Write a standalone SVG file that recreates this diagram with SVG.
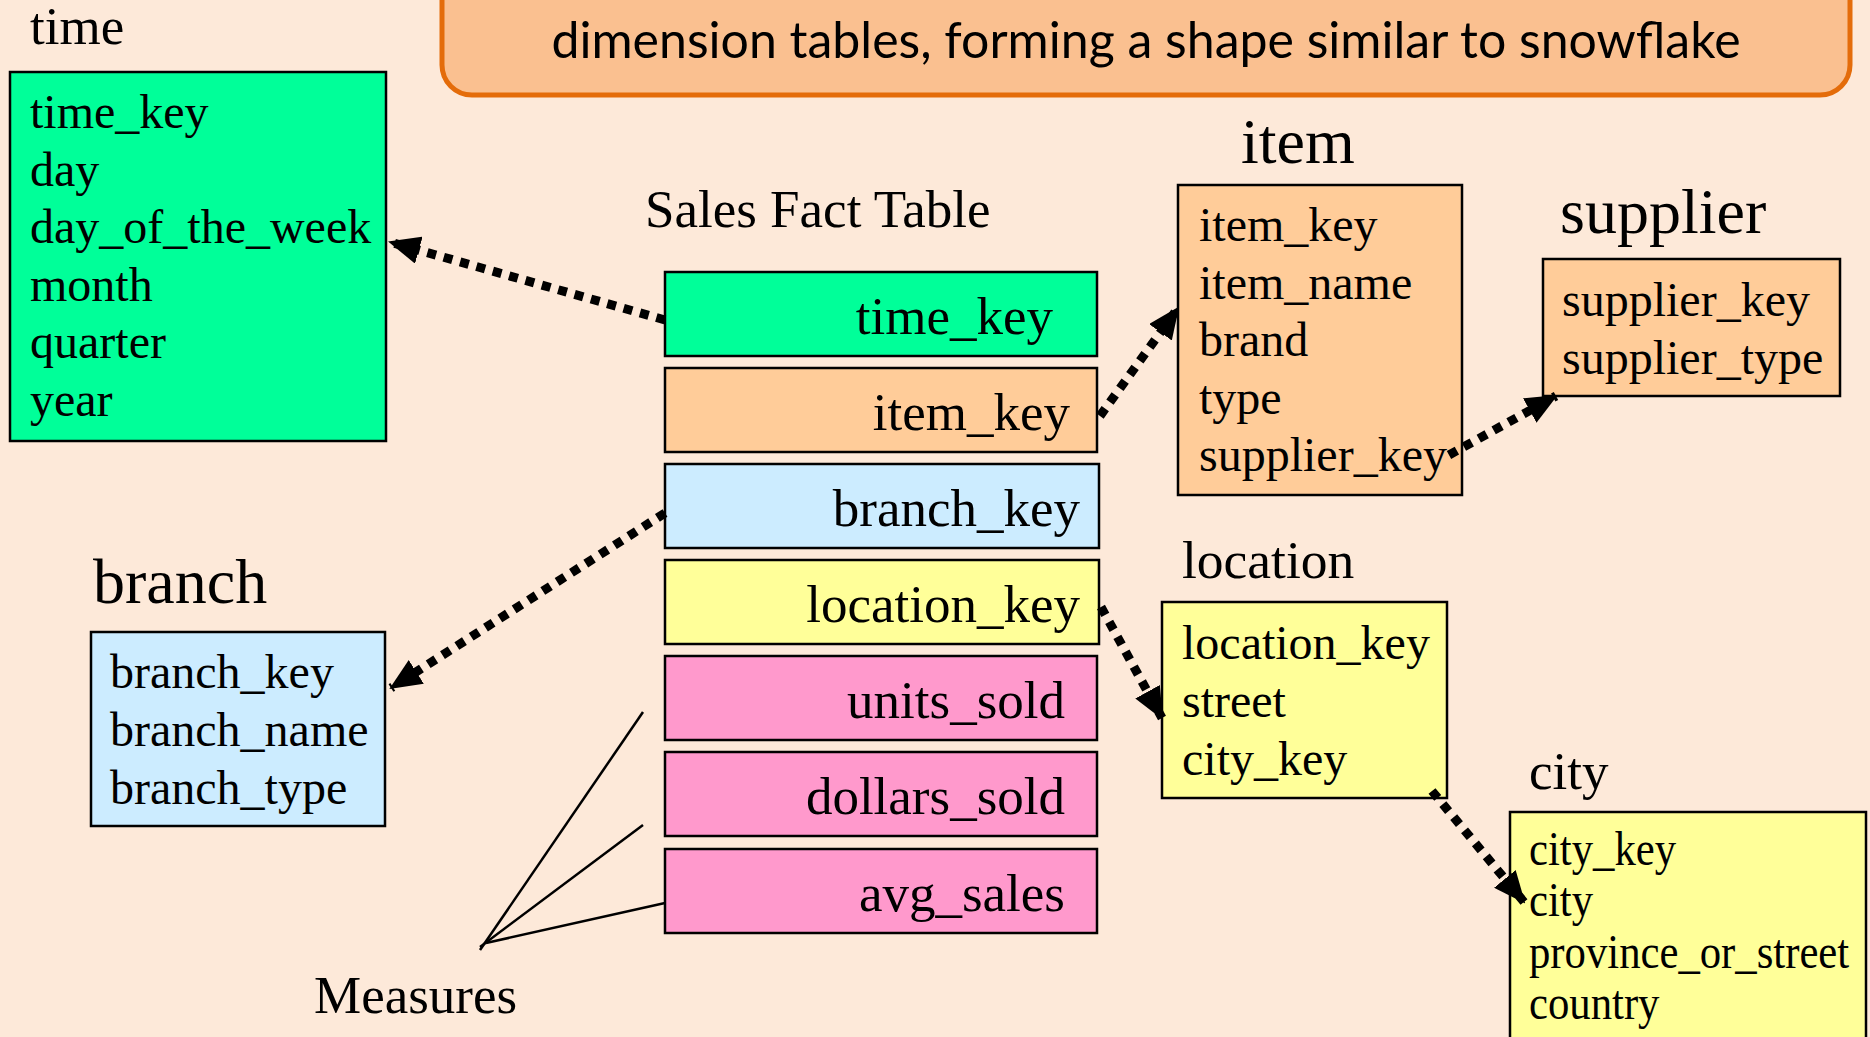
<svg xmlns="http://www.w3.org/2000/svg" width="1870" height="1037" viewBox="0 0 1870 1037">
  <defs>
    <style>
      .bg { fill: #FDE9D9; }
      .banner { fill: #FAC090; stroke: #E46C0A; stroke-width: 5; }
      .banner-text { font-family: "Lato", "Open Sans", "Liberation Sans", sans-serif; font-size: 50px; fill: #000; text-anchor: middle; }
      .box { stroke: #000; stroke-width: 2.5; }
      .green { fill: #00FF99; }
      .orange { fill: #FFCC99; }
      .blue { fill: #CCECFF; }
      .yellow { fill: #FFFF99; }
      .pink { fill: #FF99CC; }
      .title { font-family: "Liberation Serif", "Times New Roman", serif; fill: #000; }
      .attr { font-family: "Liberation Serif", "Times New Roman", serif; font-size: 48px; fill: #000; }
      .key { font-family: "Liberation Serif", "Times New Roman", serif; font-size: 53px; fill: #000; text-anchor: end; }
      .link { fill: none; stroke: #000; stroke-width: 9; stroke-dasharray: 9 8; marker-end: url(#arrow); }
      .measure { fill: none; stroke: #000; stroke-width: 2.5; }
    </style>
    <marker id="arrow" markerUnits="userSpaceOnUse" markerWidth="32" markerHeight="28" viewBox="0 0 32 28" refX="30" refY="14" orient="auto">
      <path d="M0,0 L32,14 L0,28 Z" fill="#000"/>
    </marker>
  </defs>

  <rect class="bg" x="0" y="0" width="1870" height="1037"/>

  <!-- heading banner -->
  <g id="banner">
    <rect class="banner" x="442" y="-70" width="1408" height="165" rx="30" ry="30"/>
    <text class="banner-text" x="1146" y="58">dimension tables, forming a shape similar to snowflake</text>
  </g>

  <!-- time dimension -->
  <g id="time">
    <text class="title" x="30" y="44" font-size="53">time</text>
    <rect class="box green" x="10" y="72" width="376" height="369"/>
    <text class="attr" x="30" y="128">time_key</text>
    <text class="attr" x="30" y="186">day</text>
    <text class="attr" x="30" y="243">day_of_the_week</text>
    <text class="attr" x="30" y="301">month</text>
    <text class="attr" x="30" y="358">quarter</text>
    <text class="attr" x="30" y="416">year</text>
  </g>

  <!-- fact table -->
  <g id="sales-fact">
    <text class="title" x="645" y="227" font-size="53">Sales Fact Table</text>
    <rect class="box green" x="665" y="272" width="432" height="84"/>
    <text class="key" x="1053" y="334">time_key</text>
    <rect class="box orange" x="665" y="368" width="432" height="84"/>
    <text class="key" x="1070" y="430">item_key</text>
    <rect class="box blue" x="665" y="464" width="434" height="84"/>
    <text class="key" x="1080" y="526">branch_key</text>
    <rect class="box yellow" x="665" y="560" width="434" height="84"/>
    <text class="key" x="1080" y="622">location_key</text>
    <rect class="box pink" x="665" y="656" width="432" height="84"/>
    <text class="key" x="1065" y="718">units_sold</text>
    <rect class="box pink" x="665" y="752" width="432" height="84"/>
    <text class="key" x="1065" y="814">dollars_sold</text>
    <rect class="box pink" x="665" y="849" width="432" height="84"/>
    <text class="key" x="1065" y="911">avg_sales</text>
  </g>

  <!-- item dimension -->
  <g id="item">
    <text class="title" x="1241" y="163" font-size="64">item</text>
    <rect class="box orange" x="1178" y="185" width="284" height="310"/>
    <text class="attr" x="1199" y="241">item_key</text>
    <text class="attr" x="1199" y="299">item_name</text>
    <text class="attr" x="1199" y="356">brand</text>
    <text class="attr" x="1199" y="414">type</text>
    <text class="attr" x="1199" y="471">supplier_key</text>
  </g>

  <!-- supplier dimension -->
  <g id="supplier">
    <text class="title" x="1560" y="233" font-size="64">supplier</text>
    <rect class="box orange" x="1543" y="259" width="297" height="137"/>
    <text class="attr" x="1562" y="316">supplier_key</text>
    <text class="attr" x="1562" y="374">supplier_type</text>
  </g>

  <!-- branch dimension -->
  <g id="branch">
    <text class="title" x="93" y="603" font-size="64">branch</text>
    <rect class="box blue" x="91" y="632" width="294" height="194"/>
    <text class="attr" x="110" y="688">branch_key</text>
    <text class="attr" x="110" y="746">branch_name</text>
    <text class="attr" x="110" y="804">branch_type</text>
  </g>

  <!-- location dimension -->
  <g id="location">
    <text class="title" x="1182" y="578" font-size="53.5">location</text>
    <rect class="box yellow" x="1162" y="602" width="285" height="196"/>
    <text class="attr" x="1182" y="659">location_key</text>
    <text class="attr" x="1182" y="717">street</text>
    <text class="attr" x="1182" y="775">city_key</text>
  </g>

  <!-- city dimension: narrower lettering -->
  <g id="city">
    <text class="title" x="1529" y="789" font-size="53">city</text>
    <rect class="box yellow" x="1510" y="812" width="356" height="240"/>
    <g transform="translate(1529,0) scale(0.89,1)">
      <text class="attr" x="0" y="865" font-size="43">city_key</text>
      <text class="attr" x="0" y="916" font-size="43">city</text>
      <text class="attr" x="0" y="968" font-size="43">province_or_street</text>
      <text class="attr" x="0" y="1019" font-size="43">country</text>
    </g>
  </g>

  <!-- measures label -->
  <g id="measures">
    <text class="title" x="314" y="1013" font-size="53">Measures</text>
  </g>

  <!-- connectors -->
  <g id="connectors">
    <path class="link" d="M665,320 L390,242"/>
    <path class="link" d="M1100,416 L1178,308"/>
    <path class="link" d="M1449,455 L1556,396"/>
    <path class="link" d="M665,513 L391,688"/>
    <path class="link" d="M1101,607 L1162,718"/>
    <path class="link" d="M1432,791 L1524,902"/>
    <path class="measure" d="M480,950 L643,712"/>
    <path class="measure" d="M480,947 L643,825"/>
    <path class="measure" d="M486,943 L665,903"/>
  </g>
</svg>
